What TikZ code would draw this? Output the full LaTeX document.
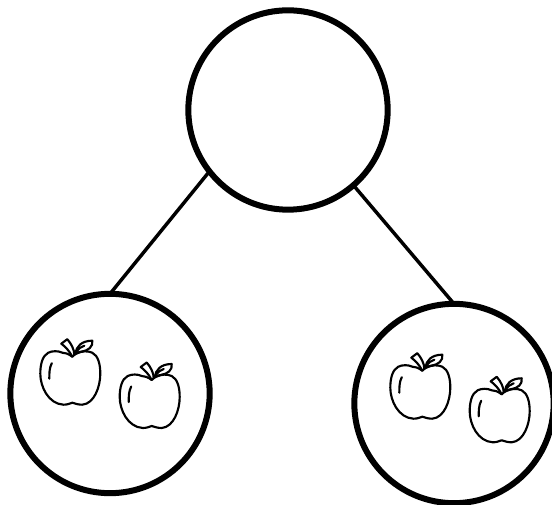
\documentclass[tikz,border=0pt]{standalone}
\tikzset{
  bubble/.style={circle,draw=black,line width=4.5pt,minimum size=149.5pt,inner sep=0pt,outer sep=0pt},
  link/.style={line width=2.6pt,draw=black},
  appleline/.style={line width=1.6pt,draw=black,line join=round,line cap=round,fill=none},
  apple/.pic={
    \draw[appleline] (0,0) .. controls (-4,-3) and (-7,-4) .. (-10,-4)
      .. controls (-14,-6) and (-20,-6) .. (-24,-4)
      .. controls (-30,-1) and (-32,8) .. (-32,17)
      .. controls (-32,30) and (-24,47) .. (-9,48)
      .. controls (-5,48) and (-3,47) .. (0,46)
      .. controls (3,47) and (6,48) .. (10,48)
      .. controls (22,47) and (28,30) .. (28,17)
      .. controls (28,8) and (26,-1) .. (20,-4)
      .. controls (15,-6) and (10,-6) .. (4,-3)
      .. controls (2,-2) and (1,-1) .. (0,0);
    \draw[appleline] (0,0) .. controls (-3,-6) and (-7,-10) .. (-11,-13)
      -- (-5,-17.5) .. controls (-1,-13) and (2,-7) .. (2,-2);
    \draw[appleline] (3,-3) .. controls (4,-10) and (9,-16) .. (20,-16)
      .. controls (21,-10) and (16,-6) .. (9,-5) .. controls (6,-4.5) and (4,-4) .. (3,-3);
    \draw[appleline] (4,-5) .. controls (6,-8) and (9,-10) .. (12,-11);
    \draw[appleline] (-20.5,6.5) .. controls (-23,11) and (-23,17) .. (-23,22);
  }
}
\begin{document}
\begin{tikzpicture}[x=0.75pt,y=-0.75pt]
  \useasboundingbox (0,0) rectangle (552,505);
  \node[bubble] (top) at (288,110) {};
  \node[bubble] (left) at (110,393.5) {};
  \node[bubble] (right) at (454,403.5) {};
  \draw[link] (top.218.7) -- (left.90.5);
  \draw[link] (top.-49) -- (right.north);
  \pic at (72.3,356.7) {apple};
  \pic at (151.7,380) {apple};
  \pic at (422.3,370.7) {apple};
  \pic at (501.7,394.3) {apple};
\end{tikzpicture}
\end{document}
